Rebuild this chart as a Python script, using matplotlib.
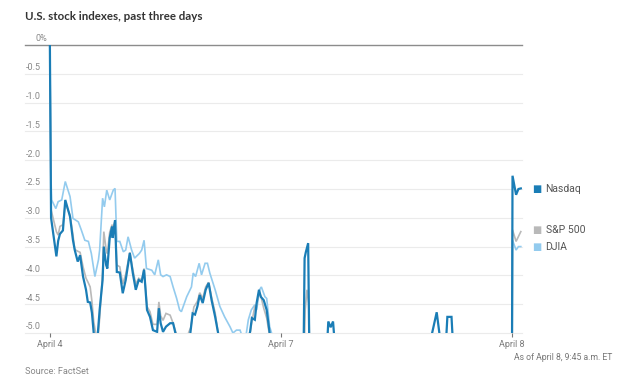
import matplotlib
matplotlib.use("Agg")
import matplotlib.pyplot as plt

# x = trading minutes since April 4 open (390 minutes per session)
# y = % change from April 3 close
nasdaq_t = [0, 2, 11, 14, 17, 22, 26, 34, 39, 42, 47, 51, 56, 61, 64, 68, 71, 74, 78, 81,
            84, 89, 91, 95, 97, 101, 105, 106, 110, 113, 118, 123, 128, 135, 140, 145, 150,
            155, 159, 164, 169, 174, 181, 184, 187, 191, 196, 203, 208, 213, 219, 230, 236,
            241, 245, 249, 253, 258, 263, 268, 273, 279, 284, 295, 312, 329, 338, 341, 346,
            349, 353, 356, 361, 366, 371, 380, 390,
            405, 428, 430, 432, 436, 438, 452, 468, 470, 474, 478, 481, 523, 591, 641, 653,
            660, 669, 671, 678, 680, 709, 768, 780,
            781, 787, 791, 795]
nasdaq_v = [0.0, -3.0, -3.67, -3.4, -3.28, -3.22, -2.69, -2.98, -3.39, -3.56, -3.76, -3.65,
            -4.02, -4.25, -4.46, -4.47, -4.65, -5.0, -5.3, -5.0,
            -4.6, -4.08, -3.5, -3.82, -3.88, -3.35, -3.15, -3.35, -3.04, -3.94, -3.95, -4.31,
            -4.08, -3.61, -3.96, -4.25, -4.08,
            -4.11, -3.9, -4.6, -4.72, -4.95, -4.98, -4.57, -4.83, -4.98, -4.89, -4.83, -4.83,
            -5.05, -5.3, -5.4, -5.1,
            -4.66, -4.68, -4.54, -4.34, -4.48, -4.25, -4.13, -4.43, -4.72, -5.0, -5.4, -5.6,
            -5.3, -4.98, -4.74, -4.77,
            -4.48, -4.25, -4.37, -4.43, -4.6, -5.0, -5.5, -5.8,
            -6.5, -5.6, -3.7, -3.6, -3.44, -5.3, -5.8, -5.2, -4.8, -4.9, -4.8, -5.2, -5.6,
            -5.5, -5.2, -4.64,
            -5.2, -5.1, -4.72, -4.72, -5.1, -5.5, -5.7, -5.7,
            -2.27, -2.6, -2.5, -2.49]

sp500_t = [0, 2, 11, 14, 17, 22, 26, 34, 39, 42, 47, 51, 56, 61, 64, 68, 71, 74, 78, 81,
           84, 89, 91, 95, 97, 101, 105, 106, 110, 113, 118, 123, 128, 135, 140, 145, 150,
           155, 159, 164, 169, 174, 181, 184, 187, 191, 196, 203, 208, 213, 219, 230, 238,
           243, 249, 253, 258, 263, 268, 273, 279, 284, 295, 312, 329, 338, 341, 346,
           349, 353, 356, 361, 366, 371, 380, 390,
           405, 428, 431, 434, 437, 440, 470, 520, 600, 700, 780,
           781, 787, 795]
sp500_v = [0.0, -2.86, -3.24, -3.3, -3.15, -3.12, -2.75, -2.95, -3.3, -3.55, -3.58, -3.6,
           -3.85, -4.05, -4.11, -4.2, -4.45, -4.8, -5.05, -5.1,
           -4.75, -3.95, -3.24, -3.55, -3.62, -3.25, -3.12, -3.18, -3.06, -3.82, -3.85, -4.15,
           -3.98, -3.6, -3.9, -4.15, -4.05,
           -4.08, -3.88, -4.54, -4.63, -4.85, -4.85, -4.46, -4.7, -4.78, -4.66, -4.69, -4.83,
           -5.0, -5.2, -5.1, -4.9,
           -4.55, -4.45, -4.3, -4.4, -4.2, -4.12, -4.38, -4.65, -5.0, -5.4, -5.6,
           -5.4, -5.0, -4.8, -4.54,
           -4.51, -4.3, -4.35, -4.57, -4.74, -5.05, -5.6, -6.0,
           -6.6, -6.0, -4.6, -4.25, -4.5, -6.0, -5.8, -6.1, -6.0, -5.9, -6.2,
           -3.21, -3.41, -3.24]

djia_t = [0, 2, 3, 10, 14, 20, 26, 34, 39, 48,
          53, 59, 65, 70, 76, 82, 84, 89, 92, 96,
          101, 107, 110, 113, 118, 124, 128, 132, 138, 143,
          151, 155, 159, 163, 172, 177, 183, 187, 191, 197,
          203, 208, 214, 219, 222, 231, 239, 242, 246, 252,
          256, 262, 266, 270, 279, 287, 295, 304, 309, 315,
          321, 326, 331, 335, 340, 346, 349, 354, 357, 363,
          366, 371, 380, 390,
          405, 500, 600, 700, 780,
          781, 787, 791, 795]
djia_v = [0.0, -2.37, -2.69, -2.84, -2.72, -2.69, -2.37, -2.63, -3.01, -3.07,
          -3.21, -3.39, -3.41, -3.62, -4.02, -3.73, -3.56, -2.66, -2.81, -2.52,
          -2.69, -2.52, -2.49, -3.41, -3.41, -3.59, -3.56, -3.33, -3.56, -3.7,
          -3.62, -3.56, -3.39, -3.88, -3.91, -3.99, -3.73, -3.99, -4.02, -3.99,
          -4.02, -4.2, -4.4, -4.6, -4.63, -4.37, -4.2, -3.96, -4.02, -3.79,
          -3.99, -3.79, -3.79, -3.96, -4.25, -4.54, -4.72, -4.89, -5.0, -4.95,
          -4.95, -5.1, -5.05, -4.77, -4.6, -4.51, -4.6, -4.25, -4.2, -4.37,
          -4.4, -4.89, -5.2, -5.5,
          -6.0, -6.2, -6.3, -6.4, -6.4,
          -3.39, -3.56, -3.5, -3.5]

names = ["Nasdaq", "S&P 500", "DJIA"]
colors = ["#1a7db6", "#b9b9b9", "#93cbee"]
label_pos = [-2.5, -3.22, -3.5]

y_ticks = [0, -0.5, -1.0, -1.5, -2.0, -2.5, -3.0, -3.5, -4.0, -4.5, -5.0]
x_ticks = [0, 390, 780]
x_labels = ["April 4", "April 7", "April 8"]

plt.rcParams["font.family"] = ["Roboto", "DejaVu Sans"]

fig = plt.figure(figsize=(6.4, 3.92), dpi=100)
ax = fig.add_axes([25 / 640, 1 - 333 / 392, 497 / 640, 288 / 392])
ax.set_xlim(-42, 797)
ax.set_ylim(-5.0, 0)
for s in ax.spines.values():
    s.set_visible(False)
ax.set_yticks([])
ax.set_xticks(x_ticks)
ax.set_xticklabels([])
ax.tick_params(axis="x", length=3, width=0.8, color="#777777", direction="out", pad=0)

for yv in y_ticks:
    if yv == 0:
        ax.axhline(yv, color="#8c8c8c", lw=1.0, zorder=1, clip_on=False)
        lab = "0%"
        dx = 7.5
    else:
        ax.axhline(yv, color="#ebebeb", lw=0.8, zorder=0, clip_on=False)
        lab = "%.1f" % yv
        dx = 0.8
    ax.annotate(lab, (0, yv), xycoords=("axes fraction", "data"),
                xytext=(dx, 1.2), textcoords="offset points",
                ha="left", va="bottom", fontsize=6.5, color="#888888")

for xv, lab in zip(x_ticks, x_labels):
    ax.annotate(lab, (xv, -5.0), xycoords="data", xytext=(0, -5),
                textcoords="offset points", ha="center", va="top",
                fontsize=6.5, color="#7a7a7a", annotation_clip=False)

series = [(djia_t, djia_v, colors[2], 1.2),
          (sp500_t, sp500_v, colors[1], 1.2),
          (nasdaq_t, nasdaq_v, colors[0], 1.6)]
for t, v, c, lw in series:
    ax.plot(t, v, color=c, lw=lw, solid_joinstyle="miter", zorder=3)

# end labels
for name, c, yv in zip(names, colors, label_pos):
    ax.annotate("\u25A0", (1, yv), xycoords=("axes fraction", "data"),
                xytext=(7.6, 0), textcoords="offset points", ha="left", va="center",
                fontsize=7, color=c, annotation_clip=False, family="DejaVu Sans")
    ax.annotate(name, (1, yv), xycoords=("axes fraction", "data"),
                xytext=(17, 0), textcoords="offset points", ha="left", va="center",
                fontsize=7.5, color="#555555", annotation_clip=False)

fig.text(25 / 640, 1 - 17 / 392, "U.S. stock indexes, past three days",
         ha="left", va="center", fontsize=8.3, fontweight="bold", color="#333333",
         family=["Lato", "DejaVu Sans"])
fig.text(612 / 640, 1 - 357 / 392, "As of April 8, 9:45 a.m. ET",
         ha="right", va="center", fontsize=6.2, color="#777777")
fig.text(25 / 640, 1 - 371 / 392, "Source: FactSet",
         ha="left", va="center", fontsize=6.6, color="#888888")

fig.savefig("out.png", dpi=100)
